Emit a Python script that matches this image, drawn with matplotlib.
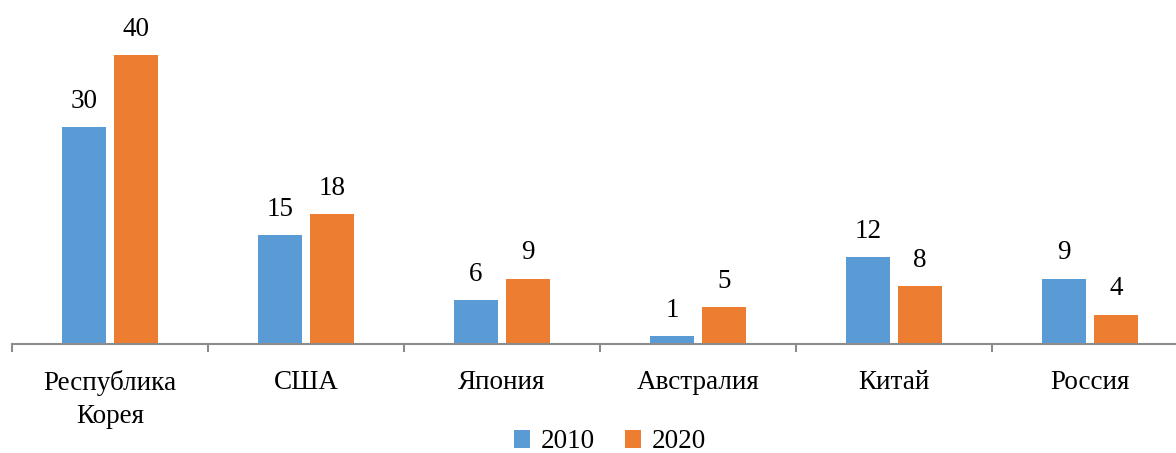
import matplotlib
matplotlib.use("Agg")
import matplotlib.pyplot as plt
import numpy as np

categories = ["Республика\nКорея", "США", "Япония", "Австралия", "Китай", "Россия"]
series_names = ["2010", "2020"]
values_2010 = [30, 15, 6, 1, 12, 9]
values_2020 = [40, 18, 9, 5, 8, 4]

colors = ["#5B9BD5", "#ED7D31"]

plt.rcParams['font.family'] = ['Liberation Serif', 'DejaVu Serif']

W, H = 1176, 453
fig = plt.figure(figsize=(W / 100, H / 100), dpi=100)
ax = fig.add_axes([12 / W, (H - 343.5) / H, 1176 / W, 324.5 / H])

x = np.arange(len(categories))
bw = 0.227
off = 0.1327
b1 = ax.bar(x - off, values_2010, bw, color=colors[0], label=series_names[0])
b2 = ax.bar(x + off, values_2020, bw, color=colors[1], label=series_names[1])

fs = 19.5
for bars in (b1, b2):
    for r in bars:
        ax.annotate(f"{int(r.get_height())}", (r.get_x() + r.get_width() / 2, r.get_height()),
                    xytext=(0, 9.5), textcoords="offset points", ha="center", va="bottom",
                    fontsize=fs, color="black")

ax.set_xlim(-0.5, len(categories) - 0.5)
ax.set_ylim(0, 45)
for s in ["top", "right", "left"]:
    ax.spines[s].set_visible(False)
ax.spines["bottom"].set_color("#8c8c8c")
ax.spines["bottom"].set_linewidth(1.5)
ax.set_yticks([])

ax.set_xticks(np.arange(len(categories) + 1) - 0.5, minor=True)
ax.set_xticks(x)
ax.set_xticklabels(categories, fontsize=fs, linespacing=1.45)
ax.tick_params(axis="x", which="major", length=0, pad=19)
ax.tick_params(axis="x", which="minor", length=6, width=1.5, color="#8c8c8c", direction="out")

leg = fig.legend(handles=[b1, b2], labels=series_names, loc="center", bbox_to_anchor=(610 / W, 1 - 442 / H),
                 ncol=2, frameon=False, fontsize=fs, handlelength=0.6, handleheight=0.6,
                 handletextpad=0.4, columnspacing=1.1)

fig.savefig("out.png", dpi=100)
